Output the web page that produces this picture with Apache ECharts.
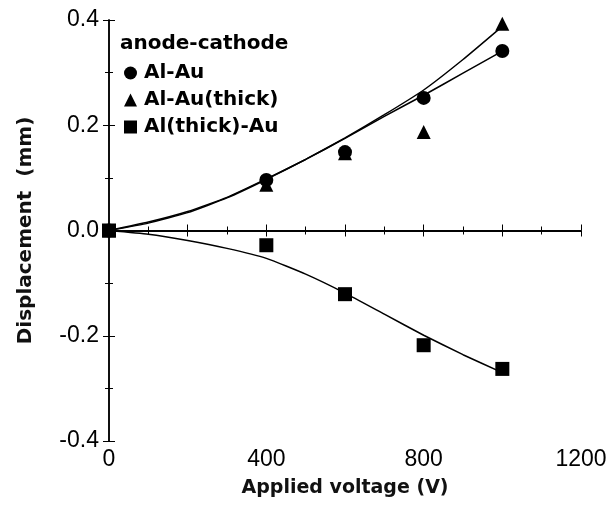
<!DOCTYPE html>
<html><head><meta charset="utf-8">
<script src="https://cdn.jsdelivr.net/npm/echarts@6/dist/echarts.min.js"></script>
<style>html,body{margin:0;padding:0;background:#fff}#c{width:611px;height:506px}</style>
</head><body><div id="c"></div>
<script>
// measured points
const voltages = [0, 400, 600, 800, 1000];
const alAu = [0, 0.096, 0.149, 0.252, 0.341];
const alAuThick = [0, 0.087, 0.147, 0.187, 0.393];
const alThickAu = [0, -0.028, -0.121, -0.218, -0.263];
// fitted curves
const fitV = [0, 100, 200, 300, 400, 500, 600, 700, 800, 900, 1000];
const fitAlAu = [0, 0.016, 0.036, 0.063, 0.098, 0.135, 0.175, 0.217, 0.257, 0.299, 0.341];
const fitAlAuThick = [0, 0.014, 0.034, 0.062, 0.097, 0.135, 0.176, 0.220, 0.267, 0.325, 0.388];
const fitAlThickAu = [0, -0.007, -0.019, -0.034, -0.053, -0.083, -0.119, -0.159, -0.199, -0.236, -0.270];
const xTickLabels = ['0', '400', '800', '1200'];
const yTickLabels = ['-0.4', '-0.2', '0.0', '0.2', '0.4'];

const pair = (xs, ys) => xs.map((x, i) => [x, ys[i]]);
const font = 'DejaVu Sans';
const chart = echarts.init(document.getElementById('c'), null, {renderer: 'canvas'});
const axisCommon = {
  axisLine: {lineStyle: {color: '#000', width: 1.5}},
  axisTick: {inside: true, length: 6, lineStyle: {color: '#000', width: 1}},
  minorTick: {show: true, splitNumber: 2, length: 4, lineStyle: {color: '#000'}},
  splitLine: {show: false}
};
const lineSeries = (name, ys) => ({
  type: 'line', name: name + ' fit', data: pair(fitV, ys), smooth: 0.15,
  symbol: 'none', lineStyle: {color: '#000', width: 1.5}, z: 2, silent: true
});
const scatter = (name, ys, symbol, size) => ({
  type: 'scatter', name: name, data: pair(voltages, ys), symbol: symbol,
  symbolSize: size, itemStyle: {color: '#000', opacity: 1}, z: 3
});
chart.setOption({
  animation: false,
  backgroundColor: '#fff',
  grid: {left: 109, right: 30, top: 20, bottom: 65},
  title: {text: 'anode-cathode', left: 115, top: 29,
    textStyle: {fontFamily: font, fontWeight: 'bold', fontSize: 20, color: '#000'}},
  legend: {
    data: [{name: 'Al-Au', icon: 'circle'}, {name: 'Al-Au(thick)', icon: 'triangle'}, {name: 'Al(thick)-Au', icon: 'rect'}],
    orient: 'vertical', left: 119, top: 58, itemWidth: 13, itemHeight: 13, itemGap: 7,
    textStyle: {fontFamily: font, fontWeight: 'bold', fontSize: 20, color: '#000', padding: [0, 0, 0, 2]}
  },
  xAxis: [
    Object.assign({type: 'value', min: 0, max: 1200, interval: 200,
      name: 'Applied voltage (V)', nameLocation: 'middle', nameGap: 38,
      nameTextStyle: {fontFamily: font, fontWeight: 'bold', fontSize: 19, color: '#111'},
      axisLabel: {fontFamily: 'Liberation Sans', fontSize: 23, color: '#000', margin: 7,
        formatter: v => xTickLabels.includes(String(v)) ? String(v) : ''}}, axisCommon),
    Object.assign({type: 'value', min: 0, max: 1200, interval: 200, position: 'top',
      axisLabel: {show: false}}, axisCommon)
  ],
  yAxis: [
    Object.assign({type: 'value', min: -0.4, max: 0.4, interval: 0.2,
      name: 'Displacement  (mm)', nameLocation: 'middle', nameGap: 73, nameRotate: 90,
      nameTextStyle: {fontFamily: font, fontWeight: 'bold', fontSize: 20, color: '#111'},
      axisLabel: {fontFamily: 'Liberation Sans', fontSize: 23, color: '#000', margin: 10,
        formatter: v => { const s = v.toFixed(1); return yTickLabels.includes(s) ? s : (s === '-0.0' ? '0.0' : ''); }}}, axisCommon),
    Object.assign({type: 'value', min: -0.4, max: 0.4, interval: 0.2, position: 'right',
      axisLabel: {show: false}}, axisCommon)
  ],
  series: [
    Object.assign(lineSeries('Al-Au', fitAlAu), {
      markLine: {silent: true, symbol: 'none', label: {show: false},
        lineStyle: {color: '#000', width: 1.5, type: 'solid'}, data: [{yAxis: 0}]}}),
    lineSeries('Al-Au(thick)', fitAlAuThick),
    lineSeries('Al(thick)-Au', fitAlThickAu),
    scatter('Al-Au', alAu, 'circle', 14),
    scatter('Al-Au(thick)', alAuThick, 'triangle', 14),
    scatter('Al(thick)-Au', alThickAu, 'rect', 14)
  ]
});
</script></body></html>
